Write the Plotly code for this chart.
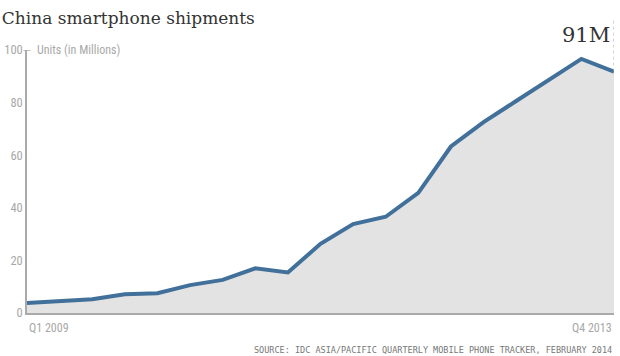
import plotly.graph_objects as go

quarters = ["Q1 2009", "Q2 2009", "Q3 2009", "Q4 2009", "Q1 2010", "Q2 2010", "Q3 2010",
            "Q4 2010", "Q1 2011", "Q2 2011", "Q3 2011", "Q4 2011", "Q1 2012", "Q2 2012",
            "Q3 2012", "Q4 2012", "Q1 2013", "Q2 2013", "Q4 2013"]
shipments = [3.8, 4.5, 5.2, 7.1, 7.5, 10.6, 12.6, 17.0, 15.4, 26.3, 33.8, 36.6,
             45.7, 63.3, 72.6, 80.6, 88.8, 96.6, 91.8]
yticks = [0, 20, 40, 60, 80, 100]

x = list(range(len(shipments)))
GRAY = "#aaaaaa"
LBL = "#a8a8a8"
NARROW = "Liberation Sans Narrow, Roboto Condensed, Roboto, sans-serif"

fig = go.Figure()
fig.add_trace(go.Scatter(
    x=x, y=shipments, mode="lines", fill="tozeroy",
    fillcolor="#e3e3e3", line=dict(color="#41709a", width=4),
    hoverinfo="skip", showlegend=False))

fig.update_layout(
    width=620, height=356,
    margin=dict(l=27, r=6, t=50, b=43, autoexpand=False),
    paper_bgcolor="white", plot_bgcolor="white",
    title=dict(text="China smartphone shipments", x=0.003, xanchor="left", y=0.95, yanchor="middle",
               font=dict(family="DejaVu Serif, serif", size=17, color="#333333")),
    xaxis=dict(range=[0, 18], showgrid=False, zeroline=False, showticklabels=False,
               showline=True, linecolor=GRAY, linewidth=1.5, ticks="", automargin=False),
    yaxis=dict(range=[0, 100], showgrid=False, zeroline=False, tickvals=yticks,
               showline=True, linecolor=GRAY, linewidth=1.5, ticks="", automargin=False,
               tickfont=dict(family=NARROW, size=12.5, color=LBL)),
    annotations=[
        dict(text="Units (in Millions)", x=0, xref="x", xshift=8, y=100, yref="y",
             xanchor="left", yanchor="middle", showarrow=False,
             font=dict(family=NARROW, size=12, color=LBL)),
        dict(text=quarters[0], x=0, xref="x", y=0, yref="y", yshift=-6,
             xanchor="left", yanchor="top", showarrow=False,
             font=dict(family=NARROW, size=12, color=LBL)),
        dict(text=quarters[-1], x=len(x) - 1, xref="x", y=0, yref="y", yshift=-6,
             xanchor="right", yanchor="top", showarrow=False,
             font=dict(family=NARROW, size=12, color=LBL)),
        dict(text="91M", x=len(x) - 1, xref="x", xshift=-2, y=1, yref="paper", yshift=1,
             xanchor="right", yanchor="bottom", showarrow=False,
             font=dict(family="DejaVu Serif, serif", size=21, color="#333333")),
        dict(text="SOURCE: IDC ASIA/PACIFIC QUARTERLY MOBILE PHONE TRACKER, FEBRUARY 2014",
             x=1, xref="paper", y=-0.141, yref="paper", xanchor="right", yanchor="middle",
             showarrow=False, font=dict(family="DejaVu Sans Mono, monospace", size=8.5, color="#777777")),
    ],
    shapes=[
        dict(type="line", xref="x", yref="paper", x0=len(x) - 1, x1=len(x) - 1,
             y0=shipments[-1] / 100, y1=1.115, line=dict(color="#aaaaaa", width=1, dash="dot")),
        dict(type="line", xref="paper", yref="y", x0=-0.006, x1=0.006, y0=100, y1=100,
             line=dict(color=GRAY, width=1.5)),
    ],
)

fig.write_html("out.html", config={"displayModeBar": False},
               post_script="document.body.style.margin='0';document.body.style.overflow='hidden';")
